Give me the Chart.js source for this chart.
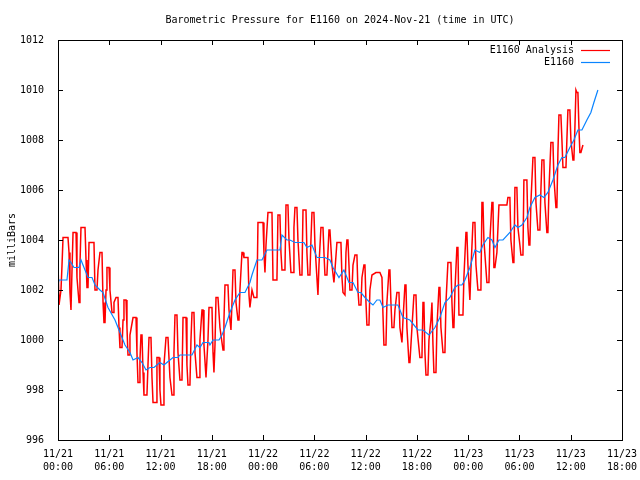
<!DOCTYPE html>
<html lang="en">
<head>
<meta charset="UTF-8">
<title>Barometric Pressure for E1160</title>
<style>
    body {
        margin: 0;
        padding: 0;
        background-color: #ffffff;
    }
    #pressureChart {
        display: block;
    }
</style>
<script src="https://cdn.jsdelivr.net/npm/chart.js"></script>
</head>
<body>
<canvas id="pressureChart" width="640" height="480"></canvas>
<script>
// chart texts
const chartTitle = 'Barometric Pressure for E1160 on 2024-Nov-21 (time in UTC)';
const yAxisTitle = 'milliBars';
const seriesNames = ['E1160 Analysis', 'E1160'];
const seriesColors = ['#ff0000', '#0a84ff'];

// x axis: hours since 11/21 00:00 UTC, a tick every 6 hours
const tickDates = ['11/21', '11/21', '11/21', '11/21', '11/22', '11/22', '11/22', '11/22', '11/23', '11/23', '11/23', '11/23'];
const tickTimes = ['00:00', '06:00', '12:00', '18:00', '00:00', '06:00', '12:00', '18:00', '00:00', '06:00', '12:00', '18:00'];
const yMin = 996, yMax = 1012, yStep = 2;

// E1160 Analysis (red)
const analysisHours = [
    0, 0.12, 0.23, 0.35, 0.47, 0.59, 1.17, 1.29, 1.40, 1.52, 1.64, 1.76, 2.11, 2.22, 2.46, 2.57, 2.69, 3.16, 3.28, 3.39,
    3.51, 3.63, 4.21, 4.33, 4.56, 4.68, 4.91, 5.15, 5.27, 5.38, 5.50, 5.62, 5.73, 5.97, 6.08, 6.32, 6.44, 6.55, 6.79, 7.02,
    7.14, 7.25, 7.49, 7.61, 7.72, 7.96, 8.07, 8.19, 8.31, 8.42, 8.78, 9.13, 9.24, 9.36, 9.48, 9.59, 9.71, 9.83, 9.95, 10.06,
    10.41, 10.53, 10.65, 10.88, 11.00, 11.12, 11.47, 11.58, 11.82, 11.93, 12.05, 12.29, 12.40, 12.64, 12.87, 13.10, 13.34, 13.46, 13.57, 13.69,
    13.92, 14.04, 14.27, 14.51, 14.63, 14.98, 15.09, 15.21, 15.44, 15.56, 15.68, 15.91, 16.03, 16.26, 16.50, 16.61, 16.85, 16.97, 17.08, 17.32,
    17.43, 17.55, 17.67, 18.02, 18.14, 18.25, 18.37, 18.49, 18.72, 18.95, 19.31, 19.42, 19.54, 19.89, 20.01, 20.24, 20.36, 20.48, 20.71, 20.83,
    21.06, 21.18, 21.29, 21.53, 21.65, 21.76, 22.23, 22.35, 22.46, 22.70, 22.93, 23.28, 23.40, 23.99, 24.10, 24.22, 24.34, 24.57, 25.04, 25.16,
    25.62, 25.74, 25.97, 26.09, 26.21, 26.56, 26.68, 26.91, 27.03, 27.26, 27.50, 27.61, 27.73, 27.96, 28.08, 28.31, 28.55, 28.67, 29.02, 29.13,
    29.25, 29.48, 29.60, 29.72, 29.95, 30.07, 30.42, 30.54, 30.77, 31.01, 31.12, 31.24, 31.47, 31.59, 31.71, 31.82, 32.06, 32.29, 32.41, 32.64,
    33.11, 33.23, 33.35, 33.58, 33.70, 33.81, 33.93, 34.05, 34.16, 34.40, 34.52, 34.75, 34.98, 35.10, 35.22, 35.45, 35.57, 35.80, 35.92, 36.04,
    36.15, 36.39, 36.50, 36.74, 37.21, 37.67, 37.91, 38.03, 38.14, 38.38, 38.49, 38.73, 38.84, 38.96, 39.08, 39.31, 39.43, 39.66, 39.90, 40.01,
    40.25, 40.37, 40.60, 40.72, 40.83, 41.07, 41.18, 41.42, 41.65, 41.89, 42.00, 42.35, 42.59, 42.71, 42.82, 42.94, 43.06, 43.29, 43.41, 43.64,
    43.76, 43.88, 43.99, 44.23, 44.34, 44.58, 44.69, 44.81, 45.05, 45.28, 45.40, 45.63, 45.98, 46.10, 46.22, 46.33, 46.45, 46.68, 46.80, 46.92,
    47.39, 47.50, 47.74, 47.85, 47.97, 48.20, 48.32, 48.56, 48.79, 48.91, 49.14, 49.49, 49.61, 49.73, 49.84, 50.19, 50.43, 50.54, 50.78, 50.90,
    51.01, 51.13, 51.36, 51.60, 52.53, 52.65, 52.88, 53.00, 53.24, 53.35, 53.47, 53.70, 53.82, 54.05, 54.17, 54.41, 54.52, 54.87, 54.99, 55.11,
    55.22, 55.34, 55.58, 55.81, 55.93, 56.16, 56.39, 56.51, 56.63, 56.86, 56.98, 57.21, 57.33, 57.45, 57.68, 57.92, 58.03, 58.27, 58.38, 58.50,
    58.62, 58.85, 58.97, 59.09, 59.44, 59.55, 59.67, 59.90, 60.02, 60.26, 60.37, 60.49, 60.61, 60.72, 60.84, 60.96, 61.07, 61.19, 61.43
];
const analysisValues = [
    1003.1, 1001.4, 1001.4, 1002.0, 1003.0, 1004.1, 1004.1, 1003.5, 1001.9, 1001.2, 1002.8, 1004.3, 1004.3, 1002.5, 1001.5, 1003.0, 1004.5, 1004.5, 1003.2, 1002.1,
    1002.1, 1003.9, 1003.9, 1002.0, 1002.0, 1002.8, 1003.5, 1003.5, 1001.5, 1000.7, 1000.7, 1002.0, 1002.9, 1002.9, 1002.0, 1001.1, 1001.1, 1001.5, 1001.7, 1001.7,
    1000.5, 999.7, 999.7, 1000.8, 1001.6, 1001.6, 1000.5, 999.4, 999.4, 1000.2, 1000.9, 1000.9, 999.5, 998.3, 998.3, 999.2, 1000.2, 1000.2, 998.7, 997.8,
    997.8, 999.0, 1000.1, 1000.1, 998.5, 997.5, 997.5, 999.3, 999.3, 998.0, 997.4, 997.4, 999.0, 1000.1, 1000.1, 998.5, 997.8, 997.8, 999.5, 1001.0,
    1001.0, 999.5, 998.4, 998.4, 1000.9, 1000.9, 999.0, 998.2, 998.2, 1000.0, 1001.1, 1001.1, 999.5, 998.5, 998.5, 1000.0, 1001.2, 1001.2, 999.8, 998.5,
    998.5, 1000.0, 1001.3, 1001.3, 999.5, 998.7, 999.8, 1001.7, 1001.7, 1000.5, 999.6, 1000.8, 1002.2, 1002.2, 1001.2, 1000.4, 1001.5, 1002.8, 1002.8, 1001.5,
    1000.8, 1000.8, 1002.0, 1003.5, 1003.5, 1003.3, 1003.3, 1001.8, 1001.3, 1002.0, 1001.7, 1001.7, 1004.7, 1004.7, 1003.5, 1002.7, 1003.8, 1005.1, 1005.1, 1002.4,
    1002.4, 1005.0, 1005.0, 1003.5, 1002.8, 1002.8, 1005.4, 1005.4, 1004.0, 1002.7, 1002.7, 1004.5, 1005.3, 1005.3, 1004.0, 1002.6, 1002.6, 1005.2, 1005.2, 1003.5,
    1002.6, 1002.6, 1004.0, 1005.1, 1005.1, 1003.8, 1001.8, 1003.0, 1004.5, 1004.5, 1003.5, 1002.6, 1002.6, 1003.5, 1004.4, 1004.4, 1003.0, 1002.3, 1002.8, 1003.9,
    1003.9, 1002.5, 1001.9, 1001.8, 1003.5, 1004.0, 1004.0, 1003.0, 1002.0, 1002.0, 1003.0, 1003.4, 1003.4, 1002.0, 1001.4, 1001.4, 1002.5, 1003.0, 1003.0, 1001.5,
    1000.6, 1000.6, 1002.0, 1002.6, 1002.7, 1002.7, 1002.5, 1001.0, 999.8, 999.8, 1001.5, 1002.8, 1002.8, 1001.5, 1000.5, 1000.5, 1001.2, 1001.9, 1001.9, 1000.5,
    999.9, 1000.8, 1002.2, 1002.2, 1000.5, 999.1, 999.1, 1000.5, 1001.8, 1001.8, 1000.5, 999.3, 999.3, 1001.5, 1001.5, 999.5, 998.6, 998.6, 1000.0, 1000.8,
    1001.5, 999.8, 998.7, 998.7, 1000.5, 1002.1, 1002.1, 1000.5, 999.5, 999.5, 1001.5, 1003.1, 1003.1, 1001.5, 1000.5, 1000.5, 1002.0, 1003.7, 1003.7, 1001.0,
    1001.0, 1002.5, 1004.3, 1004.3, 1003.0, 1001.6, 1002.8, 1004.7, 1004.7, 1003.0, 1002.0, 1002.0, 1005.5, 1005.5, 1004.0, 1002.3, 1002.3, 1004.0, 1005.5, 1005.5,
    1002.9, 1002.9, 1003.5, 1005.4, 1005.4, 1005.7, 1005.7, 1004.0, 1003.1, 1003.1, 1006.1, 1006.1, 1004.5, 1003.8, 1003.4, 1003.4, 1006.4, 1006.4, 1004.5, 1003.8,
    1003.8, 1005.5, 1007.3, 1007.3, 1005.5, 1004.4, 1004.4, 1006.0, 1007.2, 1007.2, 1005.5, 1004.3, 1004.3, 1006.0, 1007.9, 1007.9, 1006.5, 1005.3, 1005.3, 1007.5,
    1009.0, 1009.0, 1008.0, 1006.9, 1006.9, 1008.0, 1009.2, 1009.2, 1008.0, 1007.2, 1007.2, 1008.5, 1010.0, 1009.9, 1009.9, 1008.5, 1007.5, 1007.5, 1007.8
];

// E1160 station (blue)
const stationHours = [
    0, 0.12, 1.05, 1.29, 1.52, 1.87, 2.46, 2.69, 3.16, 3.51, 3.98, 4.33, 4.91, 5.27, 5.85, 6.67, 7.25, 7.84, 8.42, 8.78,
    9.36, 9.83, 10.30, 10.76, 11.23, 11.93, 12.40, 13.10, 13.46, 14.04, 14.27, 15.68, 16.26, 16.61, 16.97, 17.67, 17.78, 18.14, 18.84, 19.19,
    19.54, 20.12, 20.71, 21.29, 21.88, 22.46, 22.70, 23.28, 23.87, 24.45, 25.97, 26.21, 26.79, 27.14, 27.73, 28.78, 29.13, 29.72, 30.30, 31.24,
    31.82, 32.18, 32.88, 33.46, 34.05, 34.52, 35.10, 35.45, 35.92, 36.50, 36.86, 37.32, 37.67, 38.03, 38.61, 39.78, 40.37, 41.18, 42.12, 42.71,
    43.41, 44.11, 44.69, 45.28, 45.86, 46.45, 46.80, 47.27, 47.62, 48.20, 48.79, 49.37, 49.73, 50.31, 50.78, 51.13, 51.60, 52.07, 52.88, 53.47,
    53.82, 54.29, 54.87, 55.22, 55.81, 56.39, 56.86, 57.33, 57.92, 58.50, 58.97, 59.32, 59.90, 60.37, 60.84, 61.31, 61.89, 62.36, 62.71, 63.18
];
const stationValues = [
    1002.2, 1002.4, 1002.4, 1003.2, 1003.1, 1002.9, 1002.9, 1003.2, 1002.8, 1002.5, 1002.5, 1002.2, 1002.0, 1001.9, 1001.3, 1000.8, 1000.3, 999.8, 999.5, 999.2,
    999.3, 999.1, 998.8, 998.9, 998.9, 999.1, 999.0, 999.2, 999.3, 999.3, 999.4, 999.4, 999.8, 999.7, 999.9, 999.9, 999.8, 1000.0, 1000.0, 1000.2,
    1000.5, 1001.1, 1001.6, 1001.9, 1001.9, 1002.3, 1002.6, 1003.2, 1003.2, 1003.6, 1003.6, 1004.2, 1004.0, 1004.0, 1003.9, 1003.9, 1003.7, 1003.8, 1003.3, 1003.3,
    1003.2, 1002.9, 1002.5, 1002.8, 1002.3, 1002.3, 1001.9, 1001.9, 1001.7, 1001.5, 1001.4, 1001.6, 1001.6, 1001.3, 1001.4, 1001.4, 1000.9, 1000.8, 1000.4, 1000.4,
    1000.2, 1000.5, 1000.9, 1001.5, 1001.7, 1002.1, 1002.2, 1002.2, 1002.4, 1002.9, 1003.6, 1003.5, 1003.8, 1004.1, 1004.0, 1003.7, 1004.0, 1004.0, 1004.3, 1004.6,
    1004.5, 1004.6, 1004.9, 1005.3, 1005.7, 1005.8, 1005.7, 1005.9, 1006.4, 1007.0, 1007.3, 1007.3, 1007.7, 1008.0, 1008.4, 1008.4, 1008.8, 1009.1, 1009.5, 1010.0
];

const monoFont = '"DejaVu Sans Mono", "Liberation Mono", monospace';

function toPoints(xs, ys) {
    return xs.map((x, i) => ({ x: x, y: ys[i] }));
}

// gnuplot style frame: box, inward ticks, title, axis title, legend
const gnuplotFrame = {
    id: 'gnuplotFrame',
    afterDraw(chart) {
        const ctx = chart.ctx;
        const area = chart.chartArea;
        const xs = chart.scales.x;
        const ys = chart.scales.y;
        const tick = 5;

        ctx.save();
        ctx.strokeStyle = '#000';
        ctx.lineWidth = 1;
        ctx.beginPath();
        xs.ticks.forEach(t => {
            const px = Math.round(xs.getPixelForValue(t.value)) + 0.5;
            ctx.moveTo(px, area.bottom); ctx.lineTo(px, area.bottom - tick);
            ctx.moveTo(px, area.top); ctx.lineTo(px, area.top + tick);
        });
        ys.ticks.forEach(t => {
            const py = Math.round(ys.getPixelForValue(t.value)) + 0.5;
            ctx.moveTo(area.left, py); ctx.lineTo(area.left + tick, py);
            ctx.moveTo(area.right, py); ctx.lineTo(area.right - tick, py);
        });
        ctx.stroke();
        ctx.strokeRect(Math.round(area.left) + 0.5, Math.round(area.top) + 0.5,
            Math.round(area.right - area.left), Math.round(area.bottom - area.top));

        ctx.fillStyle = '#000';
        ctx.font = '10px ' + monoFont;
        ctx.textAlign = 'center';
        ctx.textBaseline = 'middle';
        ctx.fillText(chartTitle, (area.left + area.right) / 2, 20);

        ctx.save();
        ctx.translate(12, (area.top + area.bottom) / 2);
        ctx.rotate(-Math.PI / 2);
        ctx.fillText(yAxisTitle, 0, 0);
        ctx.restore();

        // legend
        ctx.textAlign = 'right';
        seriesNames.forEach((name, i) => {
            const ly = 50 + i * 12;
            ctx.fillStyle = '#000';
            ctx.fillText(name, 574, ly);
            ctx.strokeStyle = seriesColors[i];
            ctx.lineWidth = 1.2;
            ctx.beginPath();
            ctx.moveTo(581, ly + 0.5);
            ctx.lineTo(610, ly + 0.5);
            ctx.stroke();
        });
        ctx.restore();
    }
};

new Chart(document.getElementById('pressureChart'), {
    type: 'line',
    data: {
        datasets: [
            {
                label: seriesNames[0],
                data: toPoints(analysisHours, analysisValues),
                borderColor: seriesColors[0],
                borderWidth: 1.5,
                pointRadius: 0,
                tension: 0,
                order: 2
            },
            {
                label: seriesNames[1],
                data: toPoints(stationHours, stationValues),
                borderColor: seriesColors[1],
                borderWidth: 1.2,
                pointRadius: 0,
                tension: 0,
                order: 1
            }
        ]
    },
    options: {
        responsive: false,
        animation: false,
        devicePixelRatio: 1,
        layout: { padding: { top: 40, right: 18, left: 0, bottom: 0 } },
        plugins: {
            legend: { display: false },
            title: { display: false },
            tooltip: { enabled: false }
        },
        scales: {
            x: {
                type: 'linear',
                min: 0,
                max: 66,
                grid: { display: false },
                border: { display: false },
                ticks: {
                    stepSize: 6,
                    autoSkip: false,
                    maxRotation: 0,
                    padding: 0,
                    color: '#000',
                    font: { family: monoFont, size: 10, lineHeight: 1.3 },
                    callback: function(value) {
                        const i = Math.round(value / 6);
                        return [tickDates[i], tickTimes[i]];
                    }
                },
                afterFit: function(scale) { scale.height = 40; }
            },
            y: {
                min: yMin,
                max: yMax,
                grid: { display: false },
                border: { display: false },
                ticks: {
                    stepSize: yStep,
                    padding: 6,
                    color: '#000',
                    font: { family: monoFont, size: 10 },
                    callback: function(value) { return value; }
                },
                afterFit: function(scale) { scale.width = 58; }
            }
        }
    },
    plugins: [gnuplotFrame]
});
</script>
</body>
</html>
